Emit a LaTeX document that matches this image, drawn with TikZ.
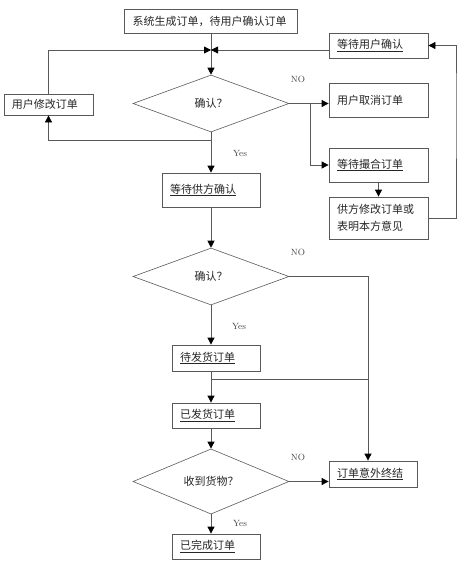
\documentclass[tikz,border=0pt]{standalone}
\usepackage{fontspec}
\newfontfamily\cjk{Noto Sans CJK SC}
\usetikzlibrary{shapes.geometric,arrows.meta}
\definecolor{linec}{gray}{0.35}
\tikzset{
  box/.style={draw=linec, line width=0.8pt, inner sep=0pt, inner xsep=8pt, align=left,
    text=black!85, font=\cjk\fontsize{11}{17}\selectfont},
  dec/.style={diamond, draw=linec, line width=0.6pt, minimum width=156pt, minimum height=57pt,
    inner sep=0pt, text=black!85, font=\cjk\fontsize{11}{13}\selectfont},
  lab/.style={text=black!75, font=\fontsize{9}{10}\selectfont},
  arr/.style={draw=linec, line width=0.8pt, -{Triangle[width=7pt,length=7pt,color=black]}},
  ln/.style={draw=linec, line width=0.8pt}
}
\begin{document}
\begin{tikzpicture}[x=1pt,y=-1pt]
  \useasboundingbox (0,0) rectangle (468,587);
  % Boxes
  \node[box, text width=157pt, minimum height=24pt] (top) at (211,21) {系统生成订单，待用户确认订单};
  \node[box, text width=83pt, minimum height=25pt] (wuser) at (378.5,45.5) {\underline{等待用户确认}};
  \node[box, text width=73pt, minimum height=21pt] (mod) at (48.5,104.5) {用户修改订单};
  \node[box, text width=83pt, minimum height=34pt] (cancel) at (378.5,100) {用户取消订单};
  \node[box, text width=83pt, minimum height=34pt] (match) at (378.5,165) {\underline{等待撮合订单}};
  \node[box, text width=83pt, minimum height=42pt] (smod) at (378.5,218) {供方修改订单或\\表明本方意见};
  \node[box, text width=82pt, minimum height=34pt] (wsupp) at (211,190) {\underline{等待供方确认}};
  \node[box, text width=72pt, minimum height=26pt] (ship) at (216,358) {\underline{待发货订单}};
  \node[box, text width=72pt, minimum height=25pt] (shipped) at (216,415.5) {\underline{已发货订单}};
  \node[box, text width=72pt, minimum height=26pt] (abort) at (373,474) {\underline{订单意外终结}};
  \node[box, text width=72pt, minimum height=25pt] (done) at (216,546.5) {\underline{已完成订单}};
  % Decisions
  \node[dec] (d1) at (211,103.5) {确认？\hspace{14pt}};
  \node[dec] (d2) at (211,276.5) {确认？\hspace{14pt}};
  \node[dec] (d3) at (211,481.5) {收到货物？\hspace{10pt}};
  % Labels
  \node[lab] (no1) at (298,79) {NO};
  \node[lab] (no2) at (298,252) {NO};
  \node[lab] (no3) at (298,457) {NO};
  \node[lab] (yes1) at (240,153) {Yes};
  \node[lab] (yes2) at (239,326) {Yes};
  \node[lab] (yes3) at (240,523) {Yes};
  % Junctions
  \coordinate (j1) at (211,50);
  \coordinate (b1) at (211,140);
  \coordinate (b2) at (310,103.5);
  \coordinate (c1) at (456,100);
  \coordinate (rx) at (368,300);
  \coordinate (b3) at (211,379);
  % Connectors
  \draw[ln] (top.south) -- (j1);
  \draw[arr] (j1) -- (d1.north);
  \draw[arr] (mod.north) |- (j1);
  \draw[arr] (j1 -| wuser.west) -- (j1);
  \draw[arr] (d1.south) -- (wsupp.north);
  \draw[arr] (b1) -| (mod.south);
  \draw[arr] (d1.east) -- (d1.east -| cancel.west);
  \draw[arr] (b2) |- (match.west);
  \draw[arr] (match.south) -- (smod.north);
  \draw[arr] (smod.east) -| (c1) |- (wuser.east);
  \draw[arr] (wsupp.south) -- (d2.north);
  \draw[arr] (d2.east) -| (abort.north -| rx);
  \draw[arr] (d2.south) -- (d2.south |- ship.north);
  \draw[ln] (b3) -- (b3 -| rx);
  \draw[arr] (ship.south -| b3) -- (shipped.north -| b3);
  \draw[arr] (shipped.south -| d3.north) -- (d3.north);
  \draw[arr] (d3.east) -- (d3.east -| abort.west);
  \draw[arr] (d3.south) -- (d3.south |- done.north);
\end{tikzpicture}
\end{document}
